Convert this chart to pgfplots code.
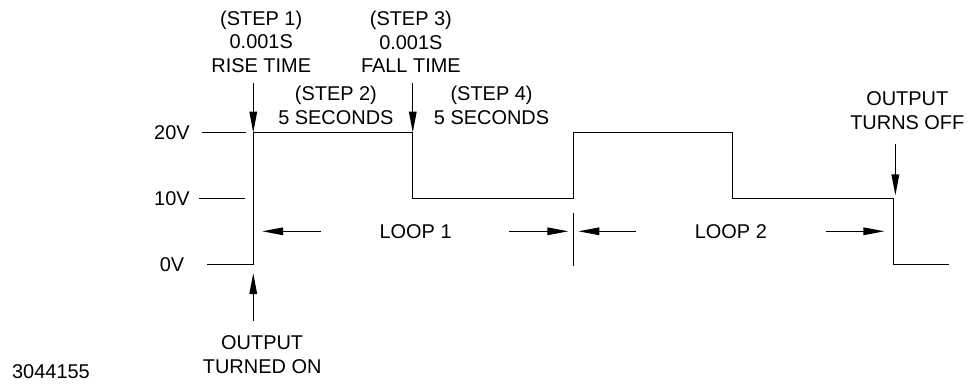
\documentclass[border=0pt]{standalone}
\usepackage{pgfplots}
\pgfplotsset{compat=1.18}
\usepackage{fontspec}
\setmainfont{Liberation Sans}
\usetikzlibrary{arrows.meta}

% step waveform: time in s, output in V
\pgfplotstableread{
t      v
-1.44  0
0      0
0      20
5      20
5      10
10.03  10
10.03  20
15.03  20
15.03  10
20.06  10
20.06  0
21.8   0
}\wave

\begin{document}
\begin{tikzpicture}[font=\fontsize{10}{12}\selectfont,
  arr/.style={line width=0.6pt, -{Triangle[length=10.5pt,width=3.8pt]}}]
\begin{axis}[
    hide axis,
    scale only axis,
    width=485.5pt, height=190.5pt,
    xmin=-7.9375, xmax=22.406,
    ymin=-17.576, ymax=40.15,
    clip=false,
]
\addplot[black, line width=0.6pt, const plot, mark=none] table[x=t, y=v] {\wave};

\path (rel axis cs:0,0) rectangle (rel axis cs:1,1);

% level ticks and labels
\draw[line width=0.6pt] (axis cs:-1.594,20) -- (axis cs:-0.219,20);
\draw[line width=0.6pt] (axis cs:-1.691,10) -- (axis cs:-0.25,10);
\node at (axis cs:-2.547,20) {20V};
\node at (axis cs:-2.547,10) {10V};
\node at (axis cs:-2.547,0) {0V};

% step callouts
\draw[arr] (axis cs:0,27.58) -- (axis cs:0,20);
\draw[arr] (axis cs:5,27.58) -- (axis cs:5,20);
\node[align=center] at (axis cs:0.25,33.79) {(STEP 1)\\0.001S\\RISE TIME};
\node[align=center] at (axis cs:4.94,33.79) {(STEP 3)\\0.001S\\FALL TIME};
\node[align=center] at (axis cs:2.59,24.09) {(STEP 2)\\5 SECONDS};
\node[align=center] at (axis cs:7.47,24.09) {(STEP 4)\\5 SECONDS};

% output on / off
\draw[arr] (axis cs:0,-8.64) -- (axis cs:0,-1.36);
\node[align=center] at (axis cs:0.28,-13.71) {OUTPUT\\TURNED ON};
\draw[arr] (axis cs:20.125,18.33) -- (axis cs:20.125,10.45);
\node[align=center] at (axis cs:20.5,23.33) {OUTPUT\\TURNS OFF};

% loop dimensions
\draw[arr] (axis cs:2.125,5) -- (axis cs:0.281,5);
\node at (axis cs:5.09,5) {LOOP 1};
\draw[arr] (axis cs:8.03,5) -- (axis cs:9.875,5);
\draw[line width=0.6pt] (axis cs:10.03,7.73) -- (axis cs:10.03,-0.30);
\draw[arr] (axis cs:12.0,5) -- (axis cs:10.19,5);
\node at (axis cs:14.97,5) {LOOP 2};
\draw[arr] (axis cs:17.94,5) -- (axis cs:19.78,5);

\node at (axis cs:-6.34,-16.36) {3044155};
\end{axis}
\end{tikzpicture}
\end{document}
